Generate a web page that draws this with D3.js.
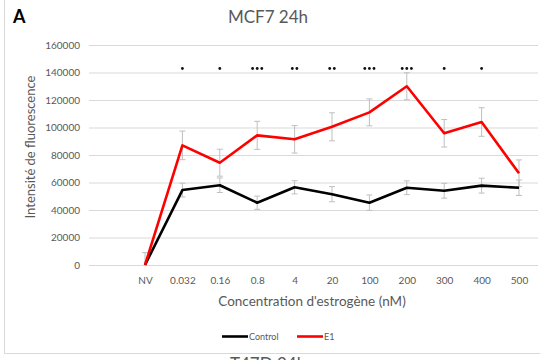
<!DOCTYPE html>
<html>
<head>
<meta charset="utf-8">
<script src="https://cdn.jsdelivr.net/npm/d3@7"></script>
<style>
  html, body { margin: 0; padding: 0; background: #fff; }
  svg { display: block; font-family: Lato, "Open Sans", sans-serif; }
</style>
</head>
<body>
<svg id="chart" width="540" height="360"></svg>
<script>
// Estrogen concentrations (nM); NV = untreated
const categories = ["NV", "0.032", "0.16", "0.8", "4", "20", "100", "200", "300", "400", "500"];
// Mean fluorescence intensity per series
const controlValues = [0, 54500, 58000, 45300, 56500, 51500, 45300, 56200, 54000, 57700, 56200];
const e1Values      = [0, 87000, 74400, 94300, 91400, 100500, 111000, 130000, 95800, 104000, 66700];
// Standard deviations
const controlErrors = [9000, 5000, 5300, 4800, 4800, 5500, 5600, 5000, 5400, 5400, 5600];
const e1Errors      = [0, 10400, 9800, 10200, 10000, 10200, 9800, 9800, 10000, 10400, 9700];
// Number of significance stars above each concentration
const significance  = [0, 1, 1, 3, 2, 2, 3, 3, 1, 1, 0];
const yTicks = [0, 20000, 40000, 60000, 80000, 100000, 120000, 140000, 160000];
const seriesNames = ["Control", "E1"];
const seriesColors = ["#000000", "#ff0000"];

const svg = d3.select("#chart");
const textGrey = "#595959";

// Panel frame
svg.append("line").attr("x1", 4.5).attr("x2", 4.5).attr("y1", 0).attr("y2", 353.5)
  .attr("stroke", "#d9d9d9").attr("stroke-width", 1);
svg.append("line").attr("x1", 4.5).attr("x2", 540).attr("y1", 353.5).attr("y2", 353.5)
  .attr("stroke", "#d9d9d9").attr("stroke-width", 1);

const x = d3.scalePoint().domain(categories).range([145, 519]);
const y = d3.scaleLinear().domain([0, 160000]).range([265, 45]);

// Horizontal gridlines with value labels
const yAxis = d3.axisLeft(y).tickValues(yTicks).tickSize(-449).tickPadding(9)
  .tickFormat(d3.format("d"));
const gy = svg.append("g").attr("transform", "translate(89,0)").call(yAxis);
gy.select(".domain").remove();
gy.selectAll(".tick line").attr("stroke", "#d9d9d9").attr("stroke-width", 1);
gy.selectAll(".tick text").attr("fill", textGrey).style("font-size", "10px")
  .style("font-family", "Lato, sans-serif");

// Category labels
const xAxis = d3.axisBottom(x).tickSize(0).tickPadding(0);
const gx = svg.append("g").attr("transform", "translate(0,277)").call(xAxis);
gx.select(".domain").remove();
gx.selectAll(".tick text").attr("fill", textGrey).style("font-size", "10px")
  .style("font-family", "Lato, sans-serif").attr("dy", "0.71em");

// Titles
svg.append("text").attr("x", 13).attr("y", 23).text("A")
  .style("font-size", "18px").style("font-weight", "bold").attr("fill", "#000");
svg.append("text").attr("x", 268).attr("y", 23).attr("text-anchor", "middle")
  .text("MCF7 24h").style("font-size", "17px").attr("fill", textGrey);
svg.append("text").attr("transform", "translate(35,147) rotate(-90)")
  .attr("text-anchor", "middle").text("Intensité de fluorescence")
  .style("font-size", "13px").attr("fill", textGrey);
svg.append("text").attr("x", 312).attr("y", 306).attr("text-anchor", "middle")
  .text("Concentration d'estrogène (nM)").style("font-size", "13.5px").attr("fill", textGrey);
svg.append("text").attr("x", 268).attr("y", 370).attr("text-anchor", "middle")
  .text("T47D 24h").style("font-size", "17px").attr("fill", textGrey);

// Series data
const series = [
  { name: seriesNames[0], color: seriesColors[0], values: controlValues, errors: controlErrors },
  { name: seriesNames[1], color: seriesColors[1], values: e1Values, errors: e1Errors }
];

// Error bars
series.forEach(s => {
  const g = svg.append("g");
  categories.forEach((c, i) => {
    const e = s.errors[i];
    if (!e) return;
    const top = y(s.values[i] + e);
    const bot = y(Math.max(0, s.values[i] - e));
    const cx = x(c);
    g.append("line").attr("x1", cx).attr("x2", cx).attr("y1", top).attr("y2", bot)
      .attr("stroke", "#bfbfbf").attr("stroke-width", 1);
    g.append("line").attr("x1", cx - 3).attr("x2", cx + 3).attr("y1", top).attr("y2", top)
      .attr("stroke", "#bfbfbf").attr("stroke-width", 1);
    if (s.values[i] - e > 0) {
      g.append("line").attr("x1", cx - 3).attr("x2", cx + 3).attr("y1", bot).attr("y2", bot)
        .attr("stroke", "#bfbfbf").attr("stroke-width", 1);
    }
  });
});

// Lines
const line = d3.line().x((d, i) => x(categories[i])).y(d => y(d));
series.forEach(s => {
  svg.append("path").datum(s.values).attr("d", line)
    .attr("fill", "none").attr("stroke", s.color).attr("stroke-width", 2.6)
    .attr("stroke-linejoin", "round");
});

// Significance markers
const stars = svg.append("g");
categories.forEach((c, i) => {
  const n = significance[i];
  for (let k = 0; k < n; k++) {
    stars.append("circle").attr("cx", x(c) + (k - (n - 1) / 2) * 4.6).attr("cy", 68.5)
      .attr("r", 1.4).attr("fill", "#111");
  }
});

// Legend
const legend = svg.append("g");
const legendX = [222, 297];
series.forEach((s, i) => {
  legend.append("line").attr("x1", legendX[i]).attr("x2", legendX[i] + 26)
    .attr("y1", 336.5).attr("y2", 336.5).attr("stroke", s.color).attr("stroke-width", 2.6);
  legend.append("text").attr("x", legendX[i] + 27).attr("y", 339.5).text(s.name)
    .style("font-size", "9px").attr("fill", textGrey);
});
</script>
</body>
</html>
